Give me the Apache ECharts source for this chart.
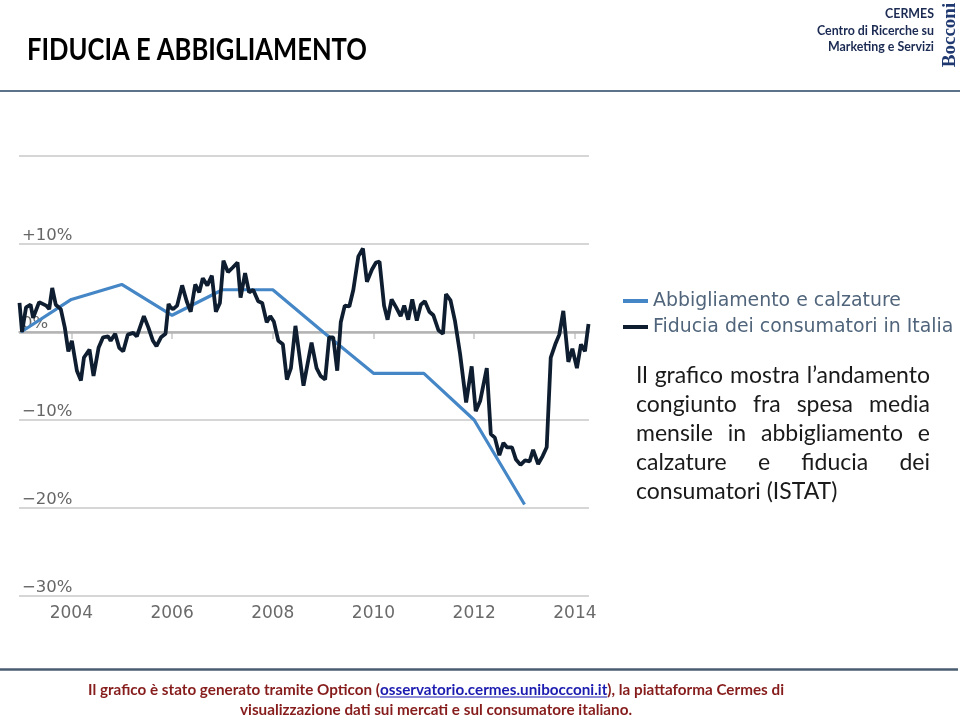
<!DOCTYPE html>
<html><head><meta charset="utf-8">
<style>html,body{margin:0;padding:0;background:#fff}#c{width:960px;height:717px}</style>
<script src="https://cdn.jsdelivr.net/npm/echarts@6.0.0/dist/echarts.min.js"></script>
</head><body><div id="c"></div>
<script>
const seriesNames = ['Abbigliamento e calzature', 'Fiducia dei consumatori in Italia'];
const blueYears = [2003, 2004, 2005, 2006, 2007, 2008, 2009, 2010, 2011, 2012, 2013];
const blueValues = [0.0, 3.7, 5.4, 1.9, 4.8, 4.8, 0.0, -4.7, -4.7, -10.0, -19.6];
const blackYears = [2002.97, 2003.02, 2003.10, 2003.19, 2003.24, 2003.36, 2003.50, 2003.56, 2003.62, 2003.69, 2003.79, 2003.87, 2003.94,
  2004.01, 2004.11, 2004.19, 2004.25, 2004.36, 2004.44, 2004.54, 2004.63, 2004.73, 2004.78, 2004.87, 2004.95,
  2005.03, 2005.12, 2005.23, 2005.30, 2005.44, 2005.53, 2005.62, 2005.69, 2005.78, 2005.87, 2005.93, 2005.97,
  2006.02, 2006.10, 2006.20, 2006.29, 2006.37, 2006.46, 2006.54, 2006.61, 2006.70, 2006.79, 2006.87, 2006.95,
  2007.02, 2007.11, 2007.20, 2007.30, 2007.36, 2007.45, 2007.53, 2007.61, 2007.71, 2007.79, 2007.88, 2007.95,
  2008.02, 2008.11, 2008.20, 2008.28, 2008.36, 2008.45, 2008.61, 2008.77, 2008.87, 2008.95,
  2009.04, 2009.12, 2009.20, 2009.28, 2009.35, 2009.43, 2009.52, 2009.60, 2009.70, 2009.79, 2009.87, 2009.97,
  2010.05, 2010.12, 2010.21, 2010.28, 2010.36, 2010.45, 2010.54, 2010.61, 2010.69, 2010.77, 2010.86, 2010.94,
  2011.02, 2011.11, 2011.19, 2011.29, 2011.38, 2011.44, 2011.53, 2011.62, 2011.72, 2011.84, 2011.95,
  2012.03, 2012.12, 2012.25, 2012.33, 2012.41, 2012.50, 2012.58, 2012.65, 2012.75, 2012.83, 2012.92,
  2013.01, 2013.10, 2013.17, 2013.27, 2013.36, 2013.44, 2013.52, 2013.61, 2013.69, 2013.77, 2013.87, 2013.95,
  2014.04, 2014.12, 2014.20, 2014.27];
const blackValues = [3.3, 0.0, 2.8, 3.1, 1.6, 3.4, 3.0, 2.6, 5.0, 3.1, 2.6, 0.5, -2.2,
  -1.0, -4.4, -5.5, -2.9, -2.0, -5.0, -1.8, -0.6, -0.5, -1.0, -0.2, -1.8,
  -2.2, -0.3, -0.1, -0.5, 1.8, 0.5, -1.0, -1.6, -0.6, -0.2, 3.2, 2.8,
  2.6, 3.0, 5.3, 3.5, 2.3, 5.4, 4.5, 6.1, 5.3, 6.4, 2.3, 3.3,
  8.1, 6.8, 7.3, 7.9, 3.9, 6.7, 4.5, 4.8, 3.5, 3.3, 1.1, 1.8,
  1.2, -1.0, -1.4, -5.4, -4.1, 0.7, -6.1, -1.2, -4.1, -5.0,
  -5.4, -0.6, -0.6, -4.4, 1.1, 3.0, 2.9, 4.8, 8.6, 9.5, 5.7, 7.1,
  7.9, 8.0, 3.0, 1.4, 3.7, 2.8, 1.8, 3.0, 1.4, 3.7, 1.3, 3.1,
  3.5, 2.3, 1.9, 0.2, -0.2, 4.3, 3.6, 1.2, -2.5, -8.0, -3.9,
  -9.0, -7.8, -4.1, -11.6, -12.0, -14.0, -12.6, -13.1, -13.1, -14.5, -15.1,
  -14.6, -14.7, -13.4, -15.0, -14.1, -13.1, -2.9, -1.4, -0.3, 2.4, -3.4, -1.9,
  -4.1, -1.4, -2.2, 0.9];
const xTickYears = [2004, 2006, 2008, 2010, 2012, 2014];
const xTickLabels = ['2004', '2006', '2008', '2010', '2012', '2014'];
const yTickValues = [-30, -20, -10, 0, 10, 20];
const yTickLabels = ['−30%', '−20%', '−10%', '0%', '+10%', ''];

const titleText = 'FIDUCIA E ABBIGLIAMENTO';
const cermesLines = ['CERMES', 'Centro di Ricerche su', 'Marketing e Servizi'];
const paraLines = ['Il grafico mostra l’andamento', 'congiunto fra spesa media', 'mensile in abbigliamento e', 'calzature e fiducia dei', 'consumatori (ISTAT)'];
const footer1 = ['Il grafico è stato generato tramite Opticon (', 'osservatorio.cermes.unibocconi.it', '), la piattaforma Cermes di'];
const footer2 = 'visualizzazione dati sui mercati e sul consumatore italiano.';

const mctx = document.createElement('canvas').getContext('2d');
function measure(text, size, weight, family) {
  mctx.font = weight + ' ' + size + 'px ' + family;
  return mctx.measureText(text).width;
}

const graphics = [];
graphics.push({type: 'line', shape: {x1: 0, y1: 91, x2: 960, y2: 91}, style: {stroke: '#5d7389', lineWidth: 2}});
graphics.push({type: 'line', shape: {x1: 0, y1: 669.5, x2: 958, y2: 669.5}, style: {stroke: '#4a5d70', lineWidth: 2.5}});
const tSize = 30.5;
const tW = measure(titleText, tSize, 'bold', 'Lato');
graphics.push({type: 'text', x: 27, y: 50, scaleX: 340 / tW,
  style: {text: titleText, fontFamily: 'Lato', fontWeight: 'bold', fontSize: tSize, fill: '#000', verticalAlign: 'middle'}});
const cW = measure(cermesLines[1], 13.5, 'bold', 'Lato');
graphics.push({type: 'group', x: 934, y: 0, scaleX: 117 / cW, children: cermesLines.map((t, i) => ({
  type: 'text', x: 0, y: 14 + i * 16.3,
  style: {text: t, fontFamily: 'Lato', fontWeight: 'bold', fontSize: 13.5, fill: '#1b2a52', align: 'right', verticalAlign: 'middle'}
}))});
graphics.push({type: 'text', x: 950, y: 35, rotation: Math.PI / 2,
  style: {text: 'Bocconi', fontFamily: '"Liberation Serif"', fontWeight: 'bold', fontSize: 19, fill: '#1f3870', align: 'center', verticalAlign: 'middle'}});
const pL = 636, pR = 930, pY0 = 376, pDy = 29, pSize = 23;
paraLines.forEach((line, li) => {
  const y = pY0 + li * pDy;
  if (li === paraLines.length - 1) {
    graphics.push({type: 'text', x: pL, y: y, style: {text: line, fontFamily: 'Lato', fontSize: pSize, fill: '#1a1a1a', verticalAlign: 'middle'}});
  } else {
    const words = line.split(' ');
    const ws = words.map(w => measure(w, pSize, 'normal', 'Lato'));
    const sum = ws.reduce((a, b) => a + b, 0);
    const gap = (pR - pL - sum) / (words.length - 1);
    let x = pL;
    words.forEach((w, i) => {
      graphics.push({type: 'text', x: x, y: y, style: {text: w, fontFamily: 'Lato', fontSize: pSize, fill: '#1a1a1a', verticalAlign: 'middle'}});
      x += ws[i] + gap;
    });
  }
});
const fSize = 14.5;
const fw = footer1.map(t => measure(t, fSize, 'bold', 'Lato'));
const fTot = fw[0] + fw[1] + fw[2];
const fs = 696 / fTot;
graphics.push({type: 'group', x: 88, y: 690, scaleX: fs, children: [
  {type: 'text', x: 0, y: 0, style: {text: footer1[0], fontFamily: 'Lato', fontWeight: 'bold', fontSize: fSize, fill: '#861c1c', verticalAlign: 'middle'}},
  {type: 'text', x: fw[0], y: 0, style: {text: footer1[1], fontFamily: 'Lato', fontWeight: 'bold', fontSize: fSize, fill: '#1c1cb0', verticalAlign: 'middle'}},
  {type: 'line', shape: {x1: fw[0], y1: 7, x2: fw[0] + fw[1], y2: 7}, style: {stroke: '#1c1cb0', lineWidth: 1.2}},
  {type: 'text', x: fw[0] + fw[1], y: 0, style: {text: footer1[2], fontFamily: 'Lato', fontWeight: 'bold', fontSize: fSize, fill: '#861c1c', verticalAlign: 'middle'}}
]});
const f2w = measure(footer2, fSize, 'bold', 'Lato');
graphics.push({type: 'text', x: 436, y: 710, scaleX: 392 / f2w,
  style: {text: footer2, fontFamily: 'Lato', fontWeight: 'bold', fontSize: fSize, fill: '#861c1c', align: 'center', verticalAlign: 'middle'}});

const chart = echarts.init(document.getElementById('c'));
chart.setOption({
  animation: false,
  backgroundColor: '#fff',
  grid: {left: 19, right: 371, top: 156, bottom: 121},
  legend: {
    orient: 'vertical', left: 618, top: 286, itemWidth: 25, itemHeight: 4, itemGap: 6, icon: 'rect',
    data: seriesNames,
    textStyle: {fontFamily: 'DejaVu Sans', fontSize: 18.9, color: '#50657b', lineHeight: 20}
  },
  xAxis: {
    type: 'value', min: 2002.96, max: 2014.28,
    axisLine: {show: true, lineStyle: {color: '#c8c8c8', width: 2}},
    axisTick: {show: true, customValues: xTickYears, length: 7, lineStyle: {color: '#c8c8c8', width: 1.5}},
    axisLabel: {customValues: xTickYears, formatter: v => xTickLabels[xTickYears.indexOf(v)], fontFamily: 'DejaVu Sans', fontSize: 17, color: '#6a6a6a', margin: 9},
    splitLine: {show: false}
  },
  yAxis: {
    type: 'value', min: -30, max: 20, interval: 10,
    axisLine: {show: false}, axisTick: {show: false},
    axisLabel: {inside: true, margin: 3, verticalAlign: 'bottom', fontFamily: 'DejaVu Sans', fontSize: 16.5, color: '#666',
      formatter: v => yTickLabels[yTickValues.indexOf(v)]},
    splitLine: {lineStyle: {color: '#c8c8c8', width: 1.5}}
  },
  series: [
    {name: seriesNames[0], type: 'line', data: blueYears.map((y, i) => [y, blueValues[i]]), symbol: 'none',
      lineStyle: {color: '#4587c6', width: 3.2}, itemStyle: {color: '#4587c6'}, z: 2,
      markLine: {silent: true, z: 1, symbol: 'none', label: {show: false}, lineStyle: {color: '#b4b4b4', width: 2.5, type: 'solid'}, data: [{yAxis: 0}]}},
    {name: seriesNames[1], type: 'line', data: blackYears.map((y, i) => [y, blackValues[i]]), symbol: 'none',
      lineStyle: {color: '#0e1e30', width: 3.8}, itemStyle: {color: '#0e1e30'}, z: 3}
  ],
  graphic: graphics
});
</script>
</body></html>
